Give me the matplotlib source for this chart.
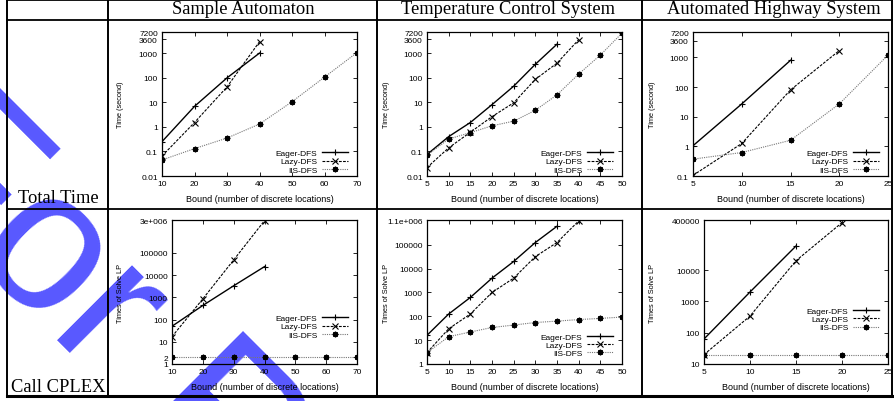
import matplotlib
matplotlib.use("Agg")
import matplotlib.pyplot as plt
from matplotlib.lines import Line2D
from matplotlib.ticker import FixedLocator, FixedFormatter, NullLocator

W, H = 894, 402

# ---- data ----
series_names = ["Eager-DFS", "Lazy-DFS", "IIS-DFS"]
column_titles = ["Sample Automaton", "Temperature Control System", "Automated Highway System"]
row_titles = ["Total Time", "Call CPLEX"]

# Sample Automaton
sa_bounds = [10, 20, 30, 40, 50, 60, 70]
sa_time_eager = [0.25, 6.8, 98, 1000]
sa_time_lazy = [0.065, 1.5, 42, 2900]
sa_time_iis = [0.045, 0.13, 0.35, 1.3, 10.5, 105, 1050]
sa_lp_eager = [50, 430, 3300, 24000]
sa_lp_lazy = [17, 850, 48000, 2.8e6]
sa_lp_iis = [2, 2, 2, 2, 2, 2, 2]

# Temperature Control System
tc_bounds = [5, 10, 15, 20, 25, 30, 35, 40, 45, 50]
tc_time_eager = [0.075, 0.4, 1.5, 8, 45, 350, 2300]
tc_time_lazy = [0.022, 0.14, 0.6, 2.6, 9.5, 85, 390, 3500]
tc_time_iis = [0.07, 0.32, 0.58, 1.1, 1.7, 4.7, 20, 140, 830, 6500]
tc_lp_eager = [16, 125, 620, 4000, 20000, 125000, 600000]
tc_lp_lazy = [3, 30, 125, 1000, 4000, 32000, 125000, 1e6]
tc_lp_iis = [3, 14, 22, 34, 43, 55, 63, 73, 82, 93]

# Automated Highway System
ah_bounds = [5, 10, 15, 20, 25]
ah_time_eager = [1.05, 27, 800]
ah_time_lazy = [0.105, 1.25, 80, 1700]
ah_time_iis = [0.37, 0.62, 1.6, 27, 1200]
ah_lp_eager = [63, 2000, 59000]
ah_lp_lazy = [20, 340, 20000, 330000]
ah_lp_iis = [20, 20, 20, 20, 20]

time_ticks = [0.01, 0.1, 1, 10, 100, 1000, 3600, 7200]
time_ticks_ah = [0.1, 1, 10, 100, 1000, 3600, 7200]
lp_ticks_sa = [1, 2, 10, 100, 1000, 10000, 100000, 3e6]
lp_tick_labels_sa = ["1", "2", "10", "100", "1000", "10000", "100000", "3e+006"]
lp_ticks_tc = [1, 10, 100, 1000, 10000, 100000, 1.1e6]
lp_tick_labels_tc = ["1", "10", "100", "1000", "10000", "100000", "1.1e+006"]
lp_ticks_ah = [10, 100, 1000, 10000, 400000]
lp_tick_labels_ah = ["10", "100", "1000", "10000", "400000"]

styles = [
    dict(color="black", lw=1.0, ls="-", marker="+", ms=5, mew=0.8),
    dict(color="black", lw=0.8, ls=(0, (2.5, 1.2)), marker="x", ms=4.2, mew=0.8),
    dict(color="#777777", lw=0.8, ls=(0, (1, 1)), marker=(8, 2, 0), ms=4, mew=1.0,
         mec="black"),
]

fig = plt.figure(figsize=(W / 100, H / 100), dpi=100)
plt.rcParams["font.family"] = ["Liberation Sans", "DejaVu Sans"]

# watermark behind everything
fig.text(-118 / W, 1 - 165 / H, "For Review Only", rotation=-45, rotation_mode="anchor",
         ha="left", va="baseline", fontsize=144, family="Liberation Sans",
         color="#5858ff", zorder=-5)


def px_axes(l, t, r, b):
    ax = fig.add_axes([l / W, 1 - b / H, (r - l) / W, (b - t) / H])
    ax.set_facecolor("none")
    return ax


def panel(ax, rect, bounds, ys, yticks, ylabels, ylim, ylabel, legend_y, xlabel_top_px):
    l, t, r, b = rect
    for name, y, st in zip(series_names, ys, styles):
        ax.plot(bounds[:len(y)], y, label=name, **st)
    ax.set_yscale("log")
    ax.set_xlim(bounds[0], bounds[-1])
    ax.set_ylim(*ylim)
    ax.xaxis.set_major_locator(FixedLocator(bounds))
    ax.yaxis.set_major_locator(FixedLocator(yticks))
    ax.yaxis.set_major_formatter(FixedFormatter(ylabels))
    ax.yaxis.set_minor_locator(NullLocator())
    ax.tick_params(direction="in", length=3, width=0.6, labelsize=6, pad=3,
                   top=True, right=True)
    for s in ax.spines.values():
        s.set_linewidth(0.9)
    ax.set_ylabel(ylabel, fontsize=5.3)
    ax.yaxis.set_label_coords((ylabel_x[l] + 3.5 - l) / (r - l), 0.5)
    ax.set_xlabel("Bound (number of discrete locations)", fontsize=6.5)
    ax.xaxis.set_label_coords(0.5, (b - xlabel_top_px) / (b - t))
    ax.legend(loc="lower right", bbox_to_anchor=(1 - 8 / (r - l), legend_y),
              markerfirst=False, frameon=False, fontsize=6, handlelength=3.2,
              handletextpad=0.5, labelspacing=0.05, borderaxespad=0, borderpad=0.1)


ylabel_x = {162: 120, 172: 120, 427: 386, 693: 653, 704: 653}

top_rects = [(162, 33, 357, 177), (427, 33, 622, 177), (693, 33, 888, 177)]
bot_rects = [(172, 221, 357, 365), (427, 221, 622, 365), (704, 221, 888, 365)]

ax = px_axes(*top_rects[0])
panel(ax, top_rects[0], sa_bounds, [sa_time_eager, sa_time_lazy, sa_time_iis],
      time_ticks, [f"{v:g}" for v in time_ticks], (0.01, 7200), "Time (second)", 0.01, 195)
ax = px_axes(*top_rects[1])
panel(ax, top_rects[1], tc_bounds, [tc_time_eager, tc_time_lazy, tc_time_iis],
      time_ticks, [f"{v:g}" for v in time_ticks], (0.01, 7200), "Time (second)", 0.01, 195)
ax = px_axes(*top_rects[2])
panel(ax, top_rects[2], ah_bounds, [ah_time_eager, ah_time_lazy, ah_time_iis],
      time_ticks_ah, [f"{v:g}" for v in time_ticks_ah], (0.1, 7200), "Time (second)", 0.01, 195)

ax = px_axes(*bot_rects[0])
panel(ax, bot_rects[0], sa_bounds, [sa_lp_eager, sa_lp_lazy, sa_lp_iis],
      lp_ticks_sa, lp_tick_labels_sa, (1, 3e6), "Times of Solve LP", 0.17, 383)
ax = px_axes(*bot_rects[1])
panel(ax, bot_rects[1], tc_bounds, [tc_lp_eager, tc_lp_lazy, tc_lp_iis],
      lp_ticks_tc, lp_tick_labels_tc, (1, 1.1e6), "Times of Solve LP", 0.04, 383)
ax = px_axes(*bot_rects[2])
panel(ax, bot_rects[2], ah_bounds, [ah_lp_eager, ah_lp_lazy, ah_lp_iis],
      lp_ticks_ah, lp_tick_labels_ah, (10, 400000), "Times of Solve LP", 0.22, 383)

# table grid
def hline(y, x0, x1, lw):
    fig.add_artist(Line2D([x0 / W, x1 / W], [1 - y / H, 1 - y / H], color="black", lw=lw))


def vline(x, y0, y1, lw):
    fig.add_artist(Line2D([x / W, x / W], [1 - y0 / H, 1 - y1 / H], color="black", lw=lw))


hline(1, 7, 892, 1.3)
hline(21, 7, 892, 1.3)
hline(210, 7, 892, 1.3)
hline(397, 7, 892, 2.2)
for xv in [7, 108, 377, 642, 892]:
    vline(xv, 0, 398, 1.4)

for title, xc in zip(column_titles, [243, 508, 774]):
    fig.text(xc / W, 1 - 14 / H, title, ha="center", va="baseline", fontsize=13.3,
             family="Liberation Serif")
for title, yb in zip(row_titles, [203, 392]):
    fig.text(58 / W, 1 - yb / H, title, ha="center", va="baseline", fontsize=13.3,
             family="Liberation Serif")

fig.savefig("out.png", dpi=100)
